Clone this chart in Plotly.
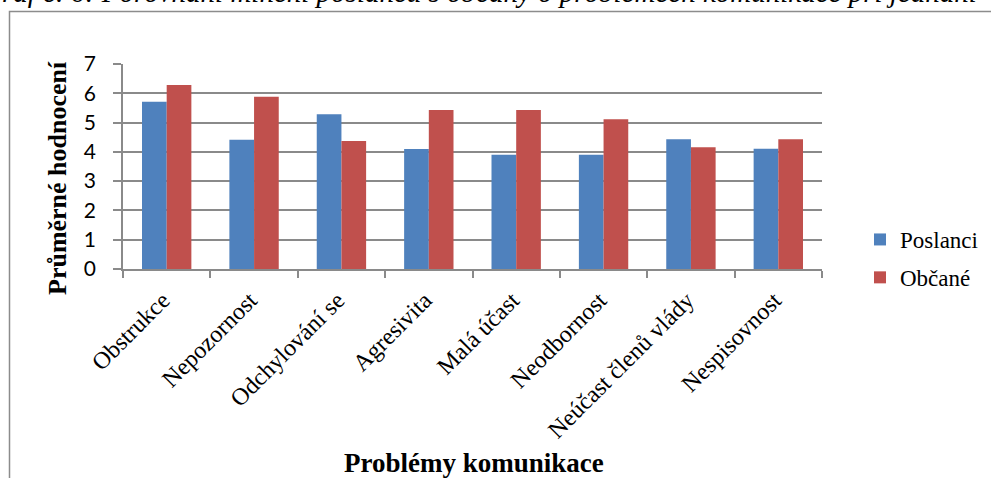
import plotly.graph_objects as go

categories = ["Obstrukce", "Nepozornost", "Odchylování se", "Agresivita",
              "Malá účast", "Neodbornost", "Neúčast členů vlády", "Nespisovnost"]
poslanci = [5.71, 4.41, 5.28, 4.10, 3.90, 3.90, 4.43, 4.11]
obcane = [6.28, 5.88, 4.37, 5.43, 5.43, 5.11, 4.16, 4.43]
series_names = ["Poslanci", "Občané"]
y_ticks = [0, 1, 2, 3, 4, 5, 6, 7]

title_text = "Graf č. 6: Porovnání mínění poslanců s občany o problémech komunikace při jednání"
y_title = "Průměrné hodnocení"
x_title = "Problémy komunikace"

W, H = 991, 478
L, R, T, B = 123, 169, 64, 209
PW, PH = W - L - R, H - T - B

def px(xp):
    return (xp - L) / PW

def py(yp):
    return (H - B - yp) / PH

GRID = "#8a8a8a"
SERIF = "Liberation Serif"

fig = go.Figure()
fig.add_trace(go.Bar(x=categories, y=poslanci, name=series_names[0],
                     marker=dict(color="#4F81BD", line=dict(width=0)),
                     legendgroup="a"))
fig.add_trace(go.Bar(x=categories, y=obcane, name=series_names[1],
                     marker=dict(color="#C0504D", line=dict(width=0)),
                     legendgroup="b"))

fig.update_layout(
    width=W, height=H,
    margin=dict(l=L, r=R, t=T, b=B, pad=0, autoexpand=False),
    paper_bgcolor="white", plot_bgcolor="white",
    barmode="group", bargap=0.435, bargroupgap=0,
    showlegend=True,
    legend=dict(x=px(860), y=py(218), xanchor="left", yanchor="top",
                font=dict(family=SERIF, size=23, color="black"),
                tracegroupgap=5, bgcolor="rgba(0,0,0,0)"),
    xaxis=dict(showline=True, linecolor=GRID, linewidth=1.5,
               ticks="outside", ticklen=7, tickcolor=GRID, tickwidth=1.5,
               tickson="boundaries", tickangle=-45,
               ticklabelstandoff=6, ticklabelshift=-4,
               tickfont=dict(family=SERIF, size=24, color="black"),
               showgrid=False, zeroline=False),
    yaxis=dict(range=[0, 7], tickvals=y_ticks, showline=True, linecolor=GRID,
               linewidth=1.5, ticks="outside", ticklen=8, tickcolor=GRID,
               tickwidth=1.5, showgrid=True, gridcolor=GRID, gridwidth=1.5,
               zeroline=False, ticklabelstandoff=13,
               tickfont=dict(family="Lato", size=21, color="black")),
    font=dict(family=SERIF, color="black"),
)

# frame around the chart
fig.add_shape(type="rect", xref="paper", yref="paper",
              x0=px(9.5), x1=px(1200), y0=py(11.5), y1=py(700),
              line=dict(color="#8c8c8c", width=1.5), fillcolor="rgba(0,0,0,0)",
              layer="below")

fig.add_annotation(text="<i>" + title_text + "</i>", xref="paper", yref="paper",
                   x=px(-21), y=py(10), xanchor="left", yanchor="bottom",
                   showarrow=False,
                   font=dict(family=SERIF, size=29, color="black"))

fig.add_annotation(text="<b>" + y_title + "</b>", xref="paper", yref="paper",
                   x=px(57), y=py(178), xanchor="center", yanchor="middle",
                   textangle=-90, showarrow=False,
                   font=dict(family=SERIF, size=26, color="black"))
fig.add_annotation(text="<b>" + x_title + "</b>", xref="paper", yref="paper",
                   x=px(474), y=py(463), xanchor="center", yanchor="middle",
                   showarrow=False,
                   font=dict(family=SERIF, size=27, color="black"))

fig.write_html("out.html",
               config={"displayModeBar": False},
               post_script="document.body.style.margin='0px';document.body.style.overflow='hidden';")
